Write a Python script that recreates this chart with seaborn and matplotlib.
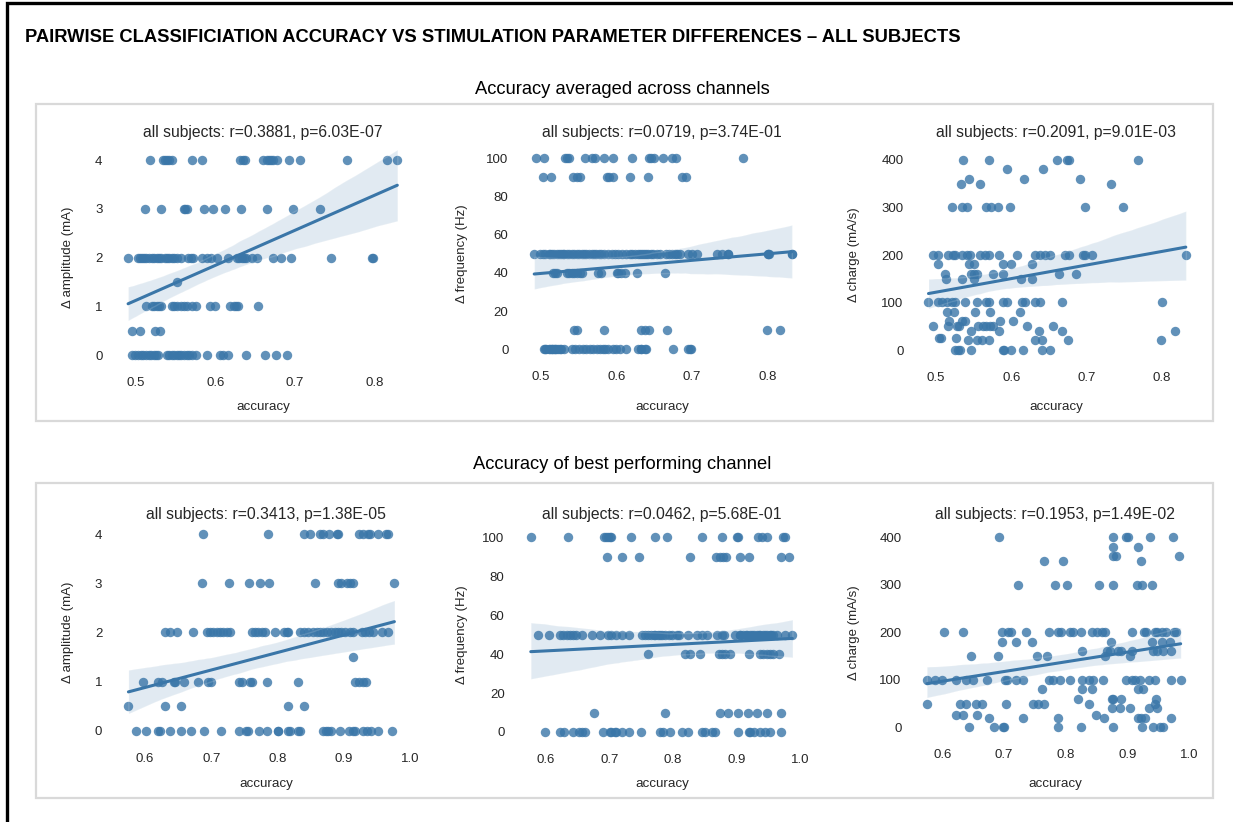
import matplotlib
matplotlib.use("Agg")
import matplotlib.pyplot as plt
import pandas as pd
import seaborn as sns
from matplotlib.patches import Rectangle

# ---------------- data (accuracy values grouped by parameter difference) ----------------
AVG_AMP = {
    4: [0.518, 0.534, 0.537, 0.539, 0.542, 0.545, 0.570, 0.583, 0.631, 0.635, 0.637, 0.660, 0.665,
        0.667, 0.670, 0.673, 0.677, 0.692, 0.706, 0.766, 0.816, 0.829],
    3: [0.511, 0.532, 0.560, 0.562, 0.564, 0.585, 0.597, 0.612, 0.632, 0.665, 0.698, 0.732],
    2: [0.490, 0.502, 0.505, 0.507, 0.510, 0.513, 0.516, 0.520, 0.523, 0.526, 0.529, 0.532, 0.536,
        0.539, 0.542, 0.545, 0.548, 0.551, 0.557, 0.566, 0.569, 0.572, 0.583, 0.589, 0.595, 0.602,
        0.616, 0.627, 0.630, 0.633, 0.636, 0.639, 0.646, 0.652, 0.673, 0.683, 0.695, 0.746, 0.797, 0.799],
    1.5: [0.551],
    1: [0.513, 0.520, 0.523, 0.526, 0.529, 0.532, 0.545, 0.548, 0.551, 0.557, 0.560, 0.564, 0.570,
        0.575, 0.593, 0.599, 0.618, 0.623, 0.626, 0.629, 0.654],
    0.5: [0.495, 0.505, 0.524, 0.530],
    0: [0.495, 0.499, 0.503, 0.506, 0.509, 0.512, 0.516, 0.519, 0.522, 0.525, 0.528, 0.539, 0.542,
        0.545, 0.548, 0.551, 0.554, 0.557, 0.560, 0.564, 0.567, 0.570, 0.576, 0.589, 0.606, 0.610,
        0.616, 0.639, 0.662, 0.676, 0.690],
}

AVG_FREQ = {
    100: [0.494, 0.504, 0.532, 0.535, 0.537, 0.558, 0.568, 0.571, 0.583, 0.595, 0.620, 0.643, 0.646,
          0.649, 0.662, 0.673, 0.679, 0.767],
    90: [0.502, 0.513, 0.543, 0.547, 0.551, 0.587, 0.590, 0.595, 0.618, 0.642, 0.686, 0.692],
    50: [0.491, 0.499, 0.502, 0.505, 0.510, 0.512, 0.514, 0.517, 0.521, 0.524, 0.527, 0.529, 0.531,
         0.534, 0.537, 0.541, 0.544, 0.547, 0.550, 0.554, 0.557, 0.560, 0.563, 0.567, 0.570, 0.573,
         0.577, 0.580, 0.584, 0.589, 0.594, 0.598, 0.602, 0.607, 0.613, 0.618, 0.621, 0.624, 0.628,
         0.631, 0.634, 0.636, 0.639, 0.642, 0.645, 0.648, 0.653, 0.658, 0.666, 0.670, 0.673, 0.677,
         0.680, 0.684, 0.695, 0.700, 0.706, 0.733, 0.740, 0.748, 0.748, 0.800, 0.800, 0.802, 0.832,
         0.832],
    40: [0.516, 0.519, 0.521, 0.534, 0.537, 0.541, 0.544, 0.547, 0.551, 0.554, 0.576, 0.580, 0.600,
         0.602, 0.606, 0.611, 0.627, 0.664],
    10: [0.544, 0.547, 0.584, 0.633, 0.637, 0.643, 0.667, 0.799, 0.816],
    0: [0.504, 0.505, 0.507, 0.510, 0.512, 0.514, 0.515, 0.517, 0.518, 0.520, 0.522, 0.525, 0.527,
        0.530, 0.541, 0.545, 0.550, 0.555, 0.560, 0.565, 0.569, 0.574, 0.578, 0.582, 0.585, 0.589,
        0.595, 0.599, 0.605, 0.613, 0.629, 0.632, 0.633, 0.637, 0.639, 0.675, 0.695, 0.697, 0.699],
}

AVG_CHARGE = {
    400: [0.536, 0.571, 0.661, 0.674, 0.677, 0.768],
    380: [0.594, 0.642],
    360: [0.544, 0.617, 0.691],
    350: [0.533, 0.559, 0.733],
    300: [0.521, 0.535, 0.541, 0.566, 0.573, 0.583, 0.598, 0.698, 0.748],
    200: [0.496, 0.502, 0.516, 0.522, 0.525, 0.534, 0.541, 0.545, 0.559, 0.565, 0.571, 0.584, 0.607,
          0.632, 0.638, 0.645, 0.651, 0.671, 0.677, 0.695, 0.698, 0.707, 0.832],
    180: [0.502, 0.544, 0.551, 0.589, 0.600, 0.627],
    160: [0.512, 0.547, 0.551, 0.554, 0.576, 0.589, 0.663, 0.686],
    150: [0.513, 0.535, 0.551, 0.613, 0.627],
    100: [0.490, 0.503, 0.508, 0.514, 0.521, 0.525, 0.538, 0.554, 0.566, 0.570, 0.589, 0.595, 0.614,
          0.618, 0.632, 0.638, 0.667, 0.800],
    80: [0.514, 0.524, 0.552, 0.572, 0.611],
    60: [0.517, 0.535, 0.539, 0.585, 0.602],
    50: [0.496, 0.516, 0.528, 0.531, 0.556, 0.563, 0.567, 0.572, 0.576, 0.621, 0.655],
    40: [0.546, 0.584, 0.637, 0.668, 0.818],
    25: [0.504, 0.506, 0.526],
    20: [0.543, 0.554, 0.561, 0.571, 0.632, 0.641, 0.675, 0.799],
    0: [0.525, 0.529, 0.532, 0.547, 0.589, 0.591, 0.600, 0.616, 0.641, 0.652],
}

BEST_AMP = {
    4: [0.688, 0.786, 0.840, 0.849, 0.864, 0.868, 0.878, 0.889, 0.891, 0.922, 0.929, 0.936, 0.939,
        0.952, 0.964, 0.967],
    3: [0.686, 0.726, 0.757, 0.773, 0.787, 0.856, 0.891, 0.896, 0.904, 0.909, 0.913, 0.976],
    2: [0.630, 0.638, 0.648, 0.673, 0.693, 0.698, 0.703, 0.708, 0.713, 0.718, 0.723, 0.728, 0.761,
        0.766, 0.771, 0.776, 0.781, 0.796, 0.809, 0.814, 0.816, 0.834, 0.839, 0.846, 0.854, 0.859,
        0.864, 0.869, 0.874, 0.881, 0.886, 0.891, 0.896, 0.902, 0.909, 0.914, 0.927, 0.932, 0.937,
        0.944, 0.957, 0.967],
    1.5: [0.913],
    1: [0.597, 0.620, 0.625, 0.643, 0.645, 0.659, 0.680, 0.695, 0.700, 0.742, 0.746, 0.758, 0.761,
        0.784, 0.830, 0.917, 0.922, 0.929, 0.933],
    0.5: [0.575, 0.630, 0.654, 0.816, 0.840],
    0: [0.587, 0.602, 0.620, 0.623, 0.637, 0.654, 0.669, 0.689, 0.714, 0.741, 0.753, 0.756, 0.772,
        0.784, 0.800, 0.801, 0.815, 0.818, 0.831, 0.834, 0.869, 0.873, 0.876, 0.881, 0.894, 0.907,
        0.914, 0.917, 0.929, 0.934, 0.940, 0.952, 0.972],
}

BEST_FREQ = {
    100: [0.576, 0.634, 0.691, 0.695, 0.697, 0.701, 0.703, 0.734, 0.772, 0.791, 0.845, 0.877, 0.900,
          0.903, 0.934, 0.940, 0.948, 0.973, 0.976],
    90: [0.696, 0.719, 0.746, 0.826, 0.868, 0.874, 0.879, 0.883, 0.906, 0.919, 0.970, 0.983],
    50: [0.588, 0.604, 0.622, 0.627, 0.633, 0.638, 0.643, 0.647, 0.656, 0.672, 0.685, 0.698, 0.703,
         0.711, 0.719, 0.730, 0.751, 0.756, 0.761, 0.766, 0.770, 0.772, 0.777, 0.780, 0.782, 0.787,
         0.793, 0.798, 0.806, 0.810, 0.824, 0.837, 0.845, 0.853, 0.870, 0.877, 0.880, 0.898, 0.905,
         0.906, 0.911, 0.915, 0.916, 0.921, 0.925, 0.927, 0.932, 0.935, 0.937, 0.942, 0.945, 0.948,
         0.953, 0.955, 0.958, 0.963, 0.977, 0.988],
    40: [0.761, 0.819, 0.827, 0.843, 0.872, 0.877, 0.882, 0.890, 0.919, 0.937, 0.942, 0.948, 0.953,
         0.958, 0.967],
    10: [0.676, 0.787, 0.874, 0.887, 0.903, 0.918, 0.932, 0.948, 0.970],
    0: [0.598, 0.622, 0.628, 0.643, 0.652, 0.656, 0.662, 0.690, 0.700, 0.703, 0.708, 0.711, 0.720,
        0.731, 0.749, 0.780, 0.785, 0.795, 0.814, 0.824, 0.845, 0.850, 0.861, 0.866, 0.903, 0.919,
        0.921, 0.927, 0.937, 0.945, 0.953, 0.970],
}

BEST_CHARGE = {
    400: [0.692, 0.876, 0.897, 0.901, 0.937, 0.974],
    380: [0.876, 0.917],
    360: [0.877, 0.882, 0.984],
    350: [0.765, 0.795, 0.921],
    300: [0.723, 0.782, 0.802, 0.854, 0.877, 0.916, 0.923, 0.939],
    200: [0.603, 0.634, 0.696, 0.707, 0.712, 0.735, 0.772, 0.788, 0.792, 0.807, 0.812, 0.824, 0.843,
          0.850, 0.858, 0.863, 0.907, 0.926, 0.930, 0.944, 0.948, 0.955, 0.962, 0.975, 0.978],
    180: [0.696, 0.720, 0.746, 0.873, 0.939, 0.955, 0.969],
    160: [0.826, 0.867, 0.871, 0.885, 0.890, 0.907, 0.942, 0.948, 0.958, 0.971],
    150: [0.647, 0.691, 0.753, 0.769, 0.864, 0.904],
    100: [0.575, 0.588, 0.599, 0.622, 0.639, 0.650, 0.672, 0.701, 0.704, 0.720, 0.730, 0.772, 0.780,
          0.791, 0.807, 0.826, 0.838, 0.844, 0.860, 0.897, 0.907, 0.912, 0.920, 0.934, 0.944, 0.970, 0.986],
    80: [0.761, 0.826, 0.842, 0.917, 0.925],
    60: [0.819, 0.874, 0.877, 0.890, 0.946],
    50: [0.575, 0.628, 0.638, 0.655, 0.664, 0.703, 0.747, 0.755, 0.765, 0.838, 0.944],
    40: [0.874, 0.888, 0.904, 0.934, 0.947],
    25: [0.622, 0.633, 0.656, 0.849],
    20: [0.676, 0.730, 0.787, 0.862, 0.917, 0.921, 0.928, 0.970],
    0: [0.644, 0.684, 0.698, 0.700, 0.787, 0.824, 0.877, 0.924, 0.941, 0.953, 0.958],
}

MAIN_TITLE = "PAIRWISE CLASSIFICIATION ACCURACY VS STIMULATION PARAMETER DIFFERENCES \u2013 ALL SUBJECTS"
SECTION_TITLES = ["Accuracy averaged across channels", "Accuracy of best performing channel"]
PANEL_TITLES = [
    "all subjects: r=0.3881, p=6.03E-07", "all subjects: r=0.0719, p=3.74E-01",
    "all subjects: r=0.2091, p=9.01E-03",
    "all subjects: r=0.3413, p=1.38E-05", "all subjects: r=0.0462, p=5.68E-01",
    "all subjects: r=0.1953, p=1.49E-02",
]
YLABELS = ["\u0394 amplitude (mA)", "\u0394 frequency (Hz)", "\u0394 charge (mA/s)"]
XLABEL = "accuracy"
XTICKS_AVG = [0.5, 0.6, 0.7, 0.8]
XTICKS_BEST = [0.6, 0.7, 0.8, 0.9, 1.0]
YTICKS = [[0, 1, 2, 3, 4], [0, 20, 40, 60, 80, 100], [0, 100, 200, 300, 400]]

# ---------------- styling ----------------
sns.set_theme(style="white")
plt.rcParams['font.family'] = ['Liberation Sans', 'DejaVu Sans']

W, H = 1233, 822
fig = plt.figure(figsize=(W / 100, H / 100), dpi=100)
COLOR = "#3a76a8"
TXT = "#262626"


def add_ax(x0, x1, y0, y1):
    return fig.add_axes([x0 / W, 1 - y1 / H, (x1 - x0) / W, (y1 - y0) / H])


def to_frame(d):
    rows = [(acc, lvl) for lvl, accs in d.items() for acc in accs]
    return pd.DataFrame(rows, columns=["accuracy", "value"])


# frame and section boxes
fig.patches.append(Rectangle((6.5 / W, -0.2), 1.5, 1 - 3 / H + 0.2, transform=fig.transFigure,
                             fill=False, edgecolor="black", linewidth=2.4, clip_on=False))
for (y0, y1) in [(104, 421), (483, 798)]:
    fig.patches.append(Rectangle((36 / W, 1 - y1 / H), (1213 - 36) / W, (y1 - y0) / H,
                                 transform=fig.transFigure, fill=False,
                                 edgecolor="#d9d9d9", linewidth=1.6))

fig.text(25 / W, 1 - 37 / H, MAIN_TITLE, fontsize=13.2, fontweight="bold", color="black",
         ha="left", va="center")
fig.text(622 / W, 1 - 89 / H, SECTION_TITLES[0], fontsize=13.2, color="black", ha="center", va="center")
fig.text(622 / W, 1 - 464 / H, SECTION_TITLES[1], fontsize=13.2, color="black", ha="center", va="center")

# (data, axes box px (x0, x1, y0, y1), xlim, ylim, xticks, kind, title y, xlabel y, ylabel x)
panels = [
    (AVG_AMP, (114.6, 411.6, 150.3, 364.8), (0.473, 0.847), (-0.2, 4.2), XTICKS_AVG, 0, 132.7, 405, 67),
    (AVG_FREQ, (520.6, 803.2, 148.8, 358.9), (0.473, 0.847), (-5, 105), XTICKS_AVG, 1, 132.7, 405, 461),
    (AVG_CHARGE, (915.7, 1197.1, 150.5, 359.5), (0.473, 0.847), (-20, 420), XTICKS_AVG, 2, 132.7, 405, 853),
    (BEST_AMP, (114.5, 417.6, 524.2, 740.5), (0.554, 1.011), (-0.2, 4.2), XTICKS_BEST, 0, 514, 781.7, 67),
    (BEST_FREQ, (516.8, 807.0, 527.6, 741.7), (0.554, 1.011), (-5, 105), XTICKS_BEST, 1, 514, 781.7, 461),
    (BEST_CHARGE, (913.9, 1196.1, 527.8, 736.8), (0.554, 1.011), (-20, 420), XTICKS_BEST, 2, 514, 781.7, 853),
]

for i, (data, box, xlim, ylim, xticks, kind, title_y, xl_y, yl_x) in enumerate(panels):
    ax = add_ax(*box)
    df = to_frame(data)
    sns.regplot(data=df, x="accuracy", y="value", ax=ax, color=COLOR, seed=3,
                scatter_kws=dict(s=46, alpha=0.8, linewidths=0),
                line_kws=dict(lw=2.2))
    ax.set_xlim(*xlim)
    ax.set_ylim(*ylim)
    ax.set_xticks(xticks)
    ax.set_xticklabels([f"{t:.1f}" for t in xticks])
    ax.set_yticks(YTICKS[kind])
    sns.despine(ax=ax, left=True, bottom=True)
    ax.tick_params(length=0, pad=8.8, labelsize=9.5, colors=TXT)
    ax.set_xlabel(XLABEL, fontsize=9.6, color=TXT)
    ax.set_ylabel(YLABELS[kind], fontsize=9.5, color=TXT)
    x0, x1, y0, y1 = box
    ax.xaxis.set_label_coords(0.5, (y1 - (xl_y - 4)) / (y1 - y0))
    ax.yaxis.set_label_coords(((yl_x + 7) - x0) / (x1 - x0), 0.5)
    ax.grid(False)
    cx = (x0 + x1) / 2
    fig.text(cx / W, 1 - title_y / H, PANEL_TITLES[i], fontsize=11.3, color=TXT,
             ha="center", va="center")

fig.savefig("out.png", dpi=100, facecolor="white")
